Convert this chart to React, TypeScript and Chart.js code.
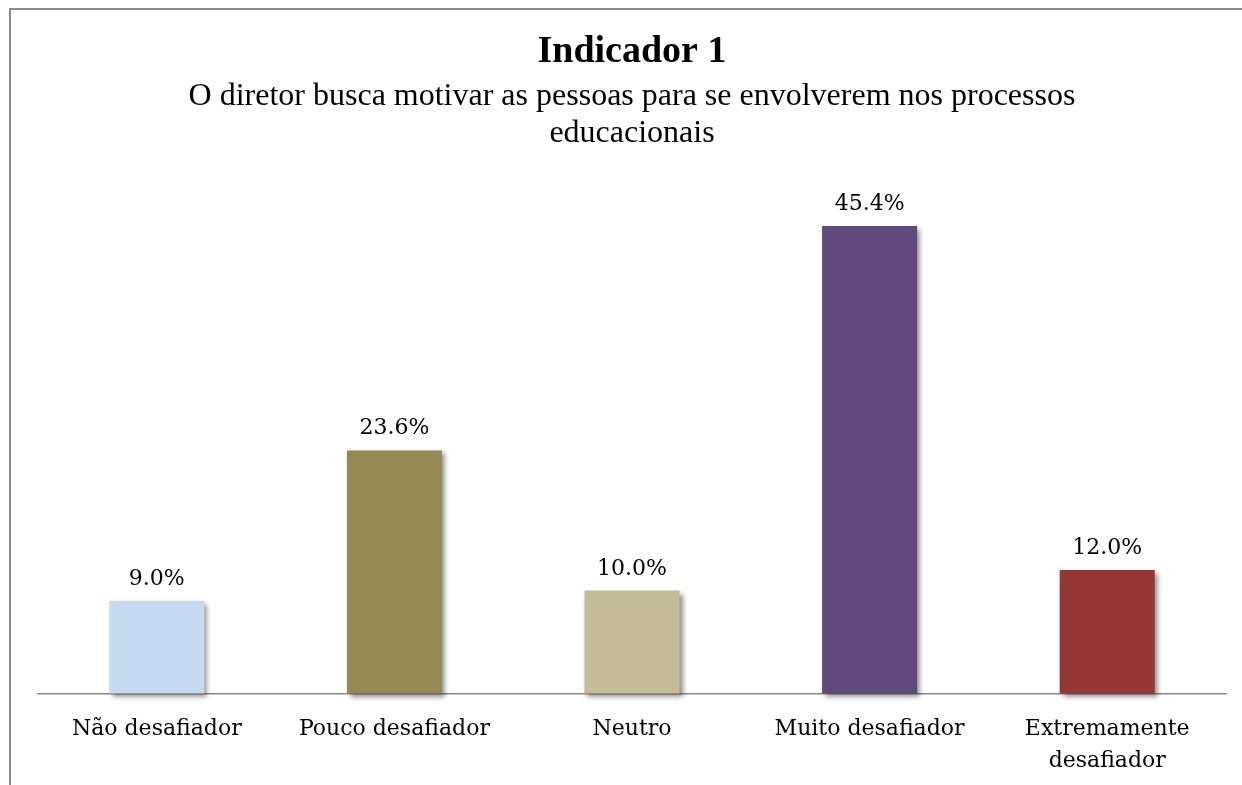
import React, { useEffect, useRef } from "react";
import { Chart, registerables } from "chart.js";

Chart.register(...registerables);

const categories: (string | string[])[] = [
  "Não desafiador",
  "Pouco desafiador",
  "Neutro",
  "Muito desafiador",
  ["Extremamente", "desafiador"],
];
const values: number[] = [9.0, 23.6, 10.0, 45.4, 12.0];
const barColors: string[] = ["#c6d9f1", "#948a54", "#c4bd97", "#604a7b", "#953735"];
const titleText = "Indicador 1";
const subtitleLines: string[] = [
  "O diretor busca motivar as pessoas para se envolverem nos processos",
  "educacionais",
];

const shadowPlugin = {
  id: "barShadow",
  beforeDatasetsDraw(chart: any) {
    const ctx = chart.ctx;
    ctx.save();
    ctx.shadowColor = "rgba(0,0,0,0.45)";
    ctx.shadowOffsetX = 3;
    ctx.shadowOffsetY = 3;
    ctx.shadowBlur = 5;
  },
  afterDatasetsDraw(chart: any) {
    chart.ctx.restore();
  },
};

const valueLabelPlugin = {
  id: "valueLabels",
  afterDraw(chart: any) {
    const ctx = chart.ctx;
    const meta = chart.getDatasetMeta(0);
    ctx.save();
    ctx.font = '22px "DejaVu Serif"';
    ctx.fillStyle = "#000000";
    ctx.textAlign = "center";
    ctx.textBaseline = "alphabetic";
    meta.data.forEach((bar: any, i: number) => {
      const v = chart.data.datasets[0].data[i] as number;
      ctx.fillText(v.toFixed(1) + "%", bar.x, bar.y - 16);
    });
    ctx.restore();
  },
};

export default function App() {
  const canvasRef = useRef<HTMLCanvasElement | null>(null);

  useEffect(() => {
    if (!canvasRef.current) return;
    const chart = new Chart(canvasRef.current, {
      type: "bar",
      data: {
        labels: categories,
        datasets: [
          {
            data: values,
            backgroundColor: barColors,
            borderWidth: 0,
            barPercentage: 0.4,
            categoryPercentage: 1,
            clip: false as any,
          },
        ],
      },
      options: {
        responsive: false,
        animation: false,
        devicePixelRatio: 1,
        layout: { padding: { left: 27, right: 16, top: 0, bottom: 0 } },
        plugins: {
          legend: { display: false },
          tooltip: { enabled: false },
          title: {
            display: true,
            text: titleText,
            color: "#000000",
            font: { family: '"Liberation Serif", "Times New Roman", serif', size: 38, weight: "bold", lineHeight: 1.2 },
            padding: { top: 19.4, bottom: 0 },
          },
          subtitle: {
            display: true,
            text: subtitleLines,
            color: "#000000",
            font: { family: '"Liberation Serif", "Times New Roman", serif', size: 32, lineHeight: 36.5 / 32 },
            padding: { top: 3.5, bottom: 27 },
          },
        },
        scales: {
          y: { display: false, min: 0, max: 50 },
          x: {
            grid: { display: false },
            border: { display: true, color: "#8a8a8a", width: 1.5 },
            ticks: {
              color: "#000000",
              font: { family: '"DejaVu Serif", serif', size: 22, lineHeight: 32 / 22 },
              padding: 12,
              maxRotation: 0,
              autoSkip: false,
            },
            afterFit(scale: any) {
              scale.height = 91.5;
            },
          },
        },
      },
      plugins: [shadowPlugin, valueLabelPlugin],
    });
    return () => chart.destroy();
  }, []);

  return (
    <div
      style={{
        position: "fixed",
        left: 9,
        top: 8,
        width: 1260,
        height: 800,
        borderTop: "2px solid #8c8c8c",
        borderLeft: "2px solid #8c8c8c",
        background: "#ffffff",
        overflow: "hidden",
      }}
    >
      <canvas ref={canvasRef} width={1231} height={775} style={{ display: "block" }} />
    </div>
  );
}
